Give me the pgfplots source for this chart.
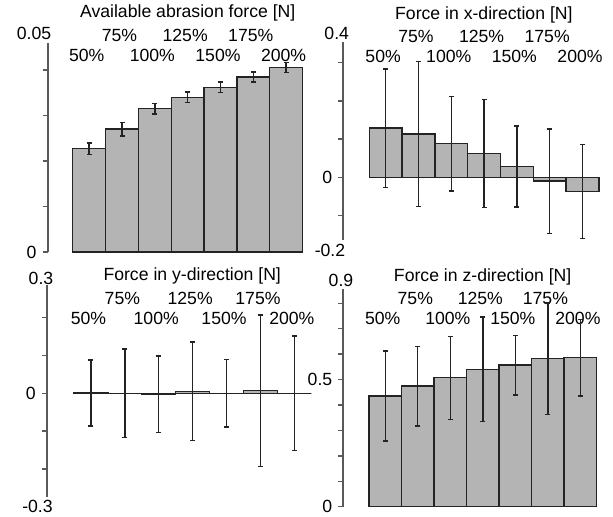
\documentclass[border=0pt]{standalone}
\usepackage{pgfplots}
\pgfplotsset{compat=1.18}
\usepackage{fontspec}
\setmainfont{Liberation Sans}
\definecolor{barfill}{RGB}{180,180,180}
\definecolor{edge}{RGB}{35,35,35}
\definecolor{axgray}{RGB}{90,90,90}
\pgfplotsset{
  panel/.style={
    scale only axis, anchor=south west, clip=false,
    scaled y ticks=false,
    axis y line*=left, axis x line*=top,
    x axis line style={draw=none},
    y axis line style={line width=2bp, draw=axgray},
    xtick style={draw=none},
    ytick style={line width=1.5bp, draw=axgray},
    ytick align=outside, major tick length=5bp,
    xmax=7.5,
    xtick={1,3,5,7}, xticklabels={50\%,100\%,150\%,200\%},
    extra x ticks={2,4,6}, extra x tick labels={75\%,125\%,175\%},
    extra x tick style={grid=none, xticklabel style={yshift=20bp}},
  },
  bars/.style={ybar, bar width=1, bar shift=0pt, fill=barfill, draw=edge, line width=1.4bp,
    error bars/.cd, y dir=both, y explicit,
    error bar style={line width=1.4bp, draw=edge},
    error mark options={rotate=90, mark size=2.5bp, line width=1.4bp, draw=edge}},
}
\begin{document}
\fontsize{17.7}{21}\selectfont
\begin{tikzpicture}[font=\fontsize{17.7}{21}\selectfont]
\path[use as bounding box] (0,0) rectangle (613bp,-517bp);

% Top-left
\begin{axis}[panel, at={(47.5bp,-252bp)}, width=255bp, height=209.3bp,
  xmin=-0.27, ymin=0, ymax=0.046,
  ytick={0,0.01,0.02,0.03,0.04}, yticklabels={0,,,,},
  xticklabel style={anchor=center, xshift=-2.5bp, yshift=-12.3bp},
  title={Available abrasion force [N]},
  every axis title/.style={at={(0.55,1)}, anchor=center, yshift=29.7bp}]
\addplot[bars] coordinates {
 (1,0.0227) +- (0,0.0013)
 (2,0.0270) +- (0,0.0015)
 (3,0.0315) +- (0,0.0012)
 (4,0.0340) +- (0,0.0012)
 (5,0.0362) +- (0,0.0012)
 (6,0.0385) +- (0,0.0011)
 (7,0.0405) +- (0,0.0011)};
\node at (rel axis cs:0,1) [xshift=-13.5bp, yshift=9.7bp] {0.05};
\end{axis}

% Top-right
\begin{axis}[panel, at={(343.3bp,-240bp)}, width=255.6bp, height=198.3bp,
  xmin=-0.29, ymin=-0.164, ymax=0.355,
  ytick={-0.1,0,0.1,0.2,0.3}, yticklabels={,0,,,},
  xticklabel style={anchor=center, xshift=-2.5bp, yshift=-15bp},
  title={Force in x-direction [N]},
  every axis title/.style={at={(0.55,1)}, anchor=center, yshift=26.7bp}]
\addplot[bars] coordinates {
 (1,0.129) +- (0,0.155)
 (2,0.113) +- (0,0.190)
 (3,0.088) +- (0,0.124)
 (4,0.062) +- (0,0.141)
 (5,0.028) +- (0,0.106)
 (6,-0.010) +- (0,0.137)
 (7,-0.037) +- (0,0.123)};
\node at (rel axis cs:0,1) [xshift=-6.6bp, yshift=8.7bp] {0.4};
\node at (rel axis cs:0,0) [xshift=-13.3bp, yshift=-10bp] {-0.2};
\end{axis}

% Bottom-left
\begin{axis}[panel, at={(46.7bp,-497bp)}, width=264.6bp, height=212bp,
  xmin=-0.305, ymin=-0.274, ymax=0.286,
  ytick={-0.2,-0.1,0,0.1,0.2}, yticklabels={,,0,,},
  xticklabel style={anchor=center, xshift=-2.5bp, yshift=-33.3bp},
  title={Force in y-direction [N]},
  every axis title/.style={at={(0.55,1)}, anchor=center, yshift=9.3bp}]
\addplot[bars] coordinates {
 (1,0.001) +- (0,0.087)
 (2,0.000) +- (0,0.117)
 (3,-0.003) +- (0,0.101)
 (4,0.005) +- (0,0.130)
 (5,0.000) +- (0,0.089)
 (6,0.007) +- (0,0.200)
 (7,0.000) +- (0,0.151)};
\node at (rel axis cs:0,1) [xshift=-5.7bp, yshift=6.5bp] {0.3};
\node at (rel axis cs:0,0) [xshift=-9.2bp, yshift=-9.7bp] {-0.3};
\end{axis}

% Bottom-right
\begin{axis}[panel, at={(343.3bp,-506.7bp)}, width=253.4bp, height=217.4bp,
  xmin=-0.29, ymin=0, ymax=0.855,
  ytick={0,0.1,0.2,0.3,0.4,0.5,0.6,0.7,0.8}, yticklabels={0,,,,,0.5,,,},
  xticklabel style={anchor=center, xshift=-2.5bp, yshift=-29bp},
  title={Force in z-direction [N]},
  every axis title/.style={at={(0.55,1)}, anchor=center, yshift=12.6bp}]
\addplot[bars] coordinates {
 (1,0.435) +- (0,0.177)
 (2,0.474) +- (0,0.157)
 (3,0.507) +- (0,0.163)
 (4,0.540) +- (0,0.206)
 (5,0.557) +- (0,0.117)
 (6,0.582) +- (0,0.219)
 (7,0.586) +- (0,0.150)};
\node at (rel axis cs:0,1) [xshift=-2.3bp, yshift=9.3bp] {0.9};
\end{axis}
\end{tikzpicture}
\end{document}
